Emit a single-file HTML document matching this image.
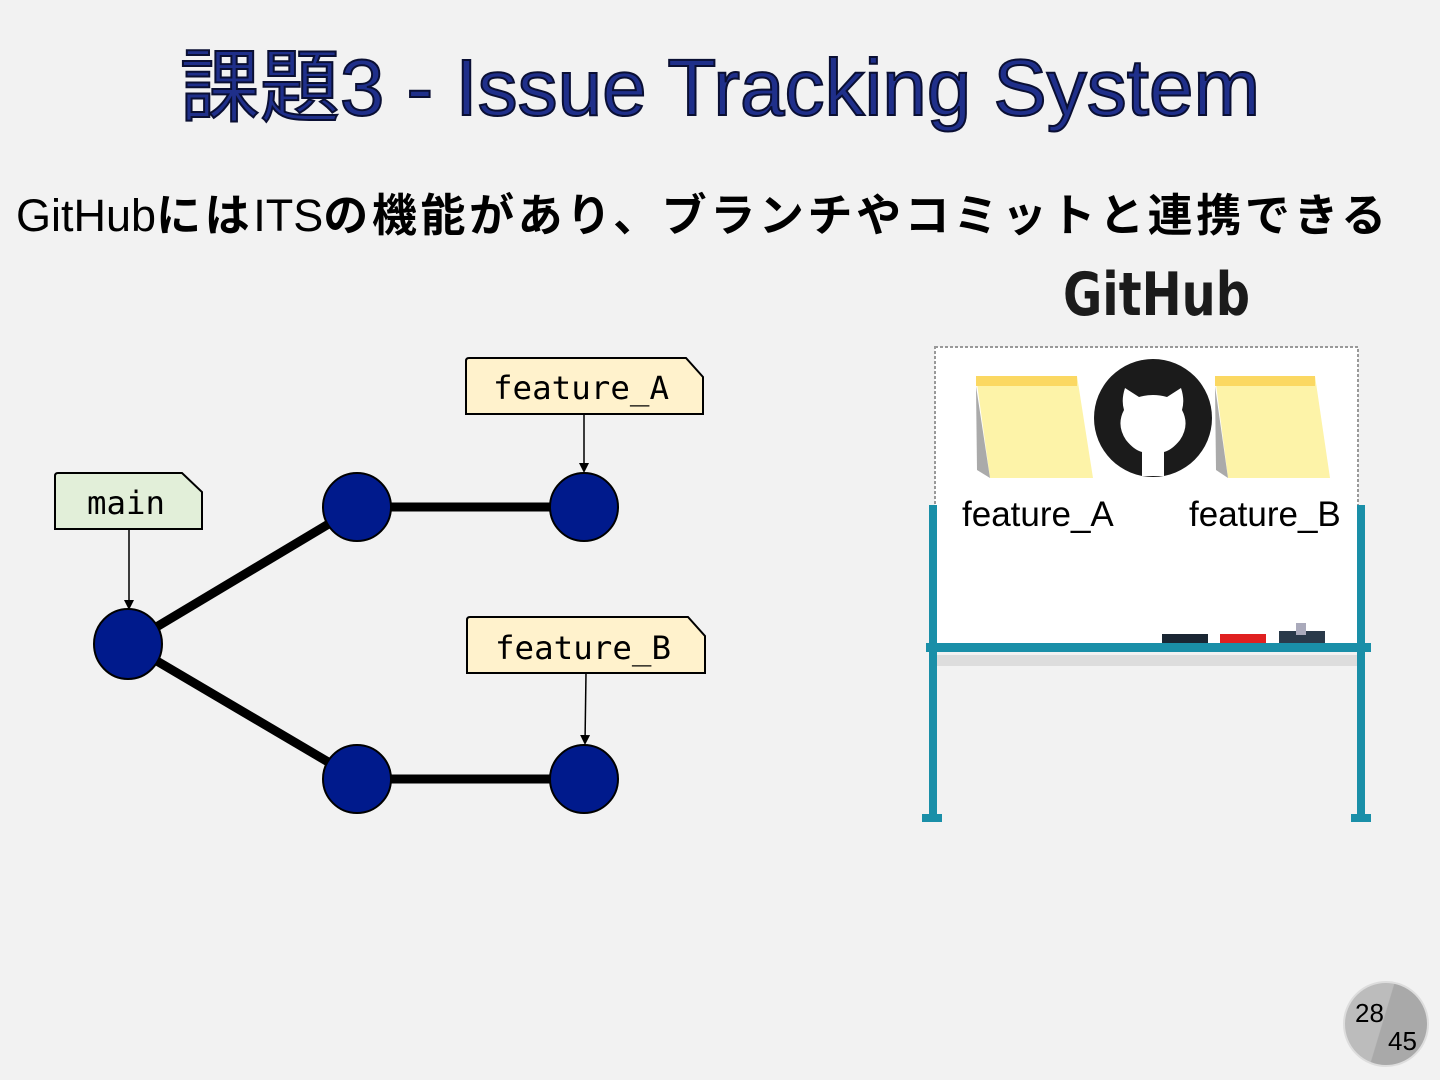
<!DOCTYPE html>
<html><head><meta charset="utf-8"><style>
html,body{margin:0;padding:0}
body{width:1440px;height:1080px;background:#f2f2f2;position:relative;overflow:hidden;font-family:"Liberation Sans","Noto Sans CJK JP",sans-serif}
.t{position:absolute;left:0;width:1440px;text-align:center;top:38px;font-size:80px;color:#1f2f8a;-webkit-text-stroke:2px #0a0f33;white-space:nowrap;line-height:100px}
.s{position:absolute;left:16px;top:186px;font-size:45px;color:#000;white-space:nowrap;line-height:60px}
.s b{letter-spacing:3.6px}
</style></head><body>
<div class="t">課題3 - Issue Tracking System</div>
<div class="s">GitHub<b>には</b>ITS<b>の機能があり、ブランチやコミットと連携できる</b></div>
<svg width="1440" height="1080" style="position:absolute;left:0;top:0">
<defs><marker id="a" markerWidth="10" markerHeight="10" refX="8" refY="5" orient="auto" markerUnits="userSpaceOnUse"><path d="M0,0 L10,5 L0,10 z" fill="#000"/></marker></defs>
<g stroke="#000" stroke-width="9">
<line x1="128" y1="644" x2="357" y2="507"/><line x1="128" y1="644" x2="357" y2="779"/>
<line x1="357" y1="507" x2="584" y2="507"/><line x1="357" y1="779" x2="584" y2="779"/>
</g>
<g fill="#001a8c" stroke="#000" stroke-width="2">
<ellipse cx="128" cy="644" rx="34" ry="35"/><ellipse cx="357" cy="507" rx="34" ry="34"/><ellipse cx="584" cy="507" rx="34" ry="34"/>
<ellipse cx="357" cy="779" rx="34" ry="34"/><ellipse cx="584" cy="779" rx="34" ry="34"/>
</g>
<g stroke="#000" stroke-width="2">
<path d="M58,473 H182 L202,492 V529 H55 V476 Q55,473 58,473Z" fill="#e2efd9"/>
<path d="M469,358 H686 L703,377 V414 H466 V361 Q466,358 469,358Z" fill="#fff2cc"/>
<path d="M470,617 H688 L705,636 V673 H467 V620 Q467,617 470,617Z" fill="#fff2cc"/>
</g>
<g stroke="#000" stroke-width="1.5" marker-end="url(#a)">
<line x1="129" y1="529" x2="129" y2="608"/>
<line x1="584" y1="414" x2="584" y2="471"/>
<line x1="586" y1="673" x2="585" y2="743"/>
</g>
<g font-family="DejaVu Sans Mono, Liberation Mono, monospace" font-size="32" text-anchor="middle" fill="#000">
<text x="126" y="514" textLength="78" lengthAdjust="spacingAndGlyphs">main</text><text x="581" y="399" textLength="176" lengthAdjust="spacingAndGlyphs">feature_A</text><text x="583" y="659" textLength="176" lengthAdjust="spacingAndGlyphs">feature_B</text>
</g>
<rect x="935" y="347" width="423" height="298" fill="#fff" stroke="#999" stroke-width="2" stroke-dasharray="3,2"/>
<rect x="937" y="655" width="420" height="11" fill="#ddd"/>
<g fill="#1a8fa8">
<rect x="929" y="505" width="8" height="315"/><rect x="1357" y="505" width="8" height="315"/>
<rect x="926" y="643" width="445" height="9"/>
<rect x="922" y="814" width="20" height="8"/><rect x="1351" y="814" width="20" height="8"/>
</g>
<rect x="1162" y="634" width="46" height="9" fill="#1a2633"/>
<rect x="1220" y="634" width="46" height="9" fill="#e02020"/>
<rect x="1279" y="631" width="46" height="12" fill="#2a3a4a"/><rect x="1296" y="623" width="10" height="12" fill="#aab"/>
<path d="M976,376 H1077 L1093,478 H990 Z" fill="#fdf3a8"/><rect x="976" y="376" width="101" height="10" fill="#fbd862"/>
<path d="M976,386 L977,470 L990,478 Z" fill="#aaa"/>
<path d="M1215,376 H1315 L1330,478 H1228 Z" fill="#fdf3a8"/><rect x="1215" y="376" width="100" height="10" fill="#fbd862"/>
<path d="M1215,386 L1216,470 L1228,478 Z" fill="#aaa"/>
<circle cx="1153" cy="418" r="59" fill="#1b1b1b"/>
<path d="M1125,388 L1139,397 Q1153,393 1167,397 L1181,388 Q1185,400 1182,410 Q1190,425 1180,440 Q1172,450 1164,452 L1164,476 L1142,476 L1142,452 Q1134,450 1126,440 Q1116,425 1124,410 Q1121,400 1125,388Z" fill="#fff"/>
<text x="1063" y="315" font-family="DejaVu Sans, Liberation Sans, sans-serif" font-weight="bold" font-size="60" fill="#1b1b1b" textLength="187" lengthAdjust="spacingAndGlyphs">GitHub</text>
<g font-size="35" fill="#000"><text x="962" y="526">feature_A</text><text x="1189" y="526">feature_B</text></g>
<defs><linearGradient id="g" x1="0" y1="0" x2="1" y2="0.3"><stop offset="0.55" stop-color="#bcbcbc"/><stop offset="0.56" stop-color="#a9a9a9"/></linearGradient></defs>
<circle cx="1386" cy="1024" r="42" fill="url(#g)" stroke="#ddd" stroke-width="2"/>
<g font-size="26" fill="#000"><text x="1355" y="1022">28</text><text x="1388" y="1050">45</text></g>
</svg>
</body></html>
